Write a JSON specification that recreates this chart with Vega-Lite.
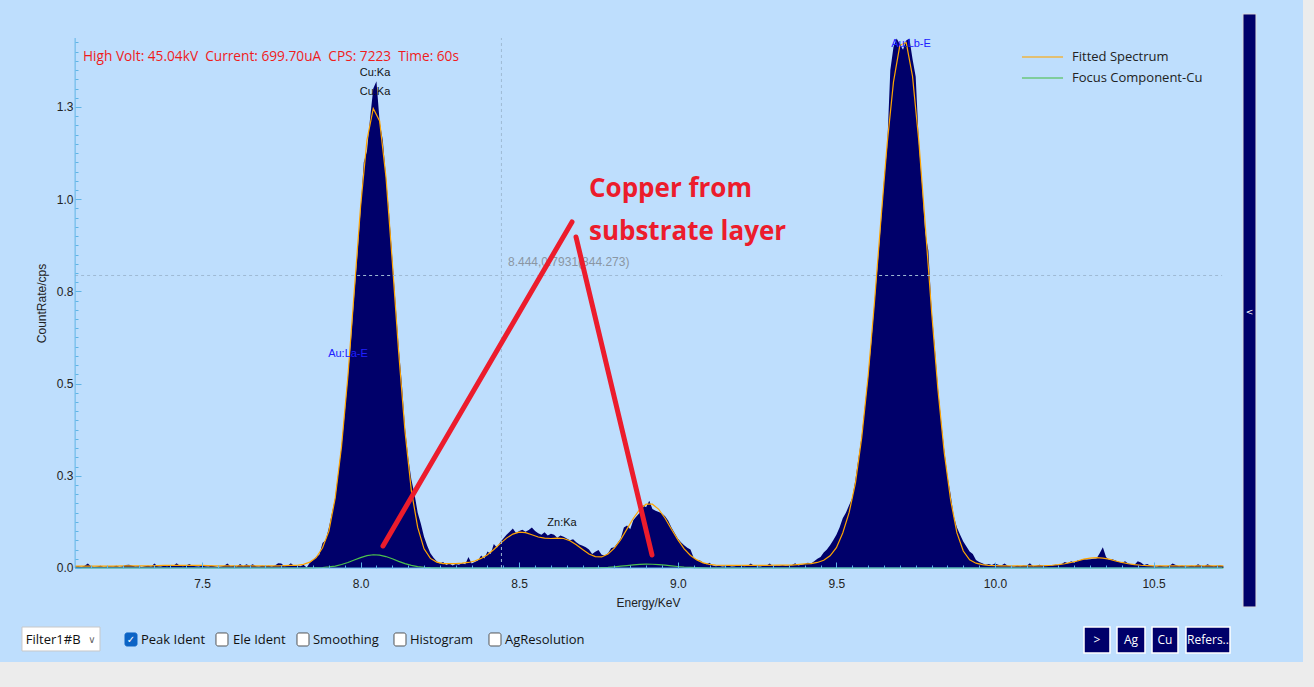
{
"$schema":"https://vega.github.io/schema/vega-lite/v6.json",
"width":1303,"height":662,
"autosize":{"type":"none"},
"padding":{"left":0,"top":0,"right":11,"bottom":25},
"background":"#ececec",
"config":{"view":{"fill":"#bedefd","stroke":null},"text":{"font":"Open Sans"}},
"datasets":{
"meas":[
{"e":7.10,"v":0.004},{"e":7.11,"v":0.005},{"e":7.12,"v":0.003},{"e":7.13,"v":0.006},{"e":7.14,"v":0.012},{"e":7.15,"v":0.005},{"e":7.16,"v":0.003},{"e":7.17,"v":0.004},{"e":7.18,"v":0.006},{"e":7.19,"v":0.003},
{"e":7.20,"v":0.004},{"e":7.21,"v":0.005},{"e":7.22,"v":0.004},{"e":7.23,"v":0.006},{"e":7.24,"v":0.003},{"e":7.25,"v":0.005},{"e":7.26,"v":0.008},{"e":7.27,"v":0.009},{"e":7.28,"v":0.006},{"e":7.29,"v":0.004},
{"e":7.30,"v":0.005},{"e":7.31,"v":0.003},{"e":7.32,"v":0.005},{"e":7.33,"v":0.006},{"e":7.34,"v":0.004},{"e":7.35,"v":0.012},{"e":7.36,"v":0.005},{"e":7.37,"v":0.004},{"e":7.38,"v":0.006},{"e":7.39,"v":0.005},
{"e":7.40,"v":0.007},{"e":7.41,"v":0.006},{"e":7.42,"v":0.013},{"e":7.43,"v":0.006},{"e":7.44,"v":0.005},{"e":7.45,"v":0.007},{"e":7.46,"v":0.011},{"e":7.47,"v":0.006},{"e":7.48,"v":0.005},{"e":7.49,"v":0.004},
{"e":7.50,"v":0.006},{"e":7.51,"v":0.005},{"e":7.52,"v":0.004},{"e":7.53,"v":0.006},{"e":7.54,"v":0.005},{"e":7.55,"v":0.003},{"e":7.56,"v":0.004},{"e":7.57,"v":0.006},{"e":7.58,"v":0.012},{"e":7.59,"v":0.005},
{"e":7.60,"v":0.006},{"e":7.61,"v":0.004},{"e":7.62,"v":0.011},{"e":7.63,"v":0.005},{"e":7.64,"v":0.010},{"e":7.65,"v":0.006},{"e":7.66,"v":0.010},{"e":7.67,"v":0.005},{"e":7.68,"v":0.004},{"e":7.69,"v":0.006},
{"e":7.70,"v":0.005},{"e":7.71,"v":0.006},{"e":7.72,"v":0.004},{"e":7.73,"v":0.007},{"e":7.74,"v":0.013},{"e":7.75,"v":0.012},{"e":7.76,"v":0.005},{"e":7.77,"v":0.006},{"e":7.78,"v":0.013},{"e":7.79,"v":0.006},
{"e":7.80,"v":0.007},{"e":7.81,"v":0.005},{"e":7.82,"v":0.009},{"e":7.83,"v":0.001},{"e":7.84,"v":0.014},{"e":7.85,"v":0.022},{"e":7.86,"v":0.030},{"e":7.87,"v":0.036},{"e":7.88,"v":0.068},{"e":7.89,"v":0.075},
{"e":7.90,"v":0.11},{"e":7.91,"v":0.15},{"e":7.92,"v":0.19},{"e":7.93,"v":0.26},{"e":7.94,"v":0.33},{"e":7.95,"v":0.42},{"e":7.96,"v":0.52},{"e":7.97,"v":0.62},{"e":7.98,"v":0.74},{"e":7.99,"v":0.85},
{"e":8.00,"v":0.97},{"e":8.01,"v":1.10},{"e":8.02,"v":1.13},{"e":8.03,"v":1.22},{"e":8.04,"v":1.30},{"e":8.05,"v":1.32},{"e":8.06,"v":1.21},{"e":8.07,"v":1.16},{"e":8.08,"v":1.06},{"e":8.09,"v":0.96},
{"e":8.10,"v":0.84},{"e":8.11,"v":0.72},{"e":8.12,"v":0.60},{"e":8.13,"v":0.50},{"e":8.14,"v":0.38},{"e":8.15,"v":0.30},{"e":8.16,"v":0.24},{"e":8.17,"v":0.20},{"e":8.18,"v":0.15},{"e":8.19,"v":0.12},
{"e":8.20,"v":0.085},{"e":8.21,"v":0.06},{"e":8.22,"v":0.04},{"e":8.23,"v":0.028},{"e":8.24,"v":0.018},{"e":8.25,"v":0.012},{"e":8.26,"v":0.016},{"e":8.27,"v":0.008},{"e":8.28,"v":0.012},{"e":8.29,"v":0.007},
{"e":8.30,"v":0.011},{"e":8.31,"v":0.009},{"e":8.32,"v":0.013},{"e":8.33,"v":0.010},{"e":8.34,"v":0.030},{"e":8.35,"v":0.012},{"e":8.36,"v":0.016},{"e":8.37,"v":0.020},{"e":8.38,"v":0.034},{"e":8.39,"v":0.026},
{"e":8.40,"v":0.045},{"e":8.41,"v":0.038},{"e":8.42,"v":0.065},{"e":8.43,"v":0.055},{"e":8.44,"v":0.070},{"e":8.45,"v":0.080},{"e":8.46,"v":0.090},{"e":8.47,"v":0.098},{"e":8.48,"v":0.107},{"e":8.49,"v":0.095},
{"e":8.50,"v":0.100},{"e":8.51,"v":0.104},{"e":8.52,"v":0.098},{"e":8.53,"v":0.103},{"e":8.54,"v":0.110},{"e":8.55,"v":0.100},{"e":8.56,"v":0.094},{"e":8.57,"v":0.090},{"e":8.58,"v":0.097},{"e":8.59,"v":0.088},
{"e":8.60,"v":0.093},{"e":8.61,"v":0.090},{"e":8.62,"v":0.082},{"e":8.63,"v":0.088},{"e":8.64,"v":0.085},{"e":8.65,"v":0.080},{"e":8.66,"v":0.075},{"e":8.67,"v":0.078},{"e":8.68,"v":0.070},{"e":8.69,"v":0.064},
{"e":8.70,"v":0.060},{"e":8.71,"v":0.056},{"e":8.72,"v":0.050},{"e":8.73,"v":0.038},{"e":8.74,"v":0.044},{"e":8.75,"v":0.049},{"e":8.76,"v":0.036},{"e":8.77,"v":0.034},{"e":8.78,"v":0.040},{"e":8.79,"v":0.054},
{"e":8.80,"v":0.056},{"e":8.81,"v":0.068},{"e":8.82,"v":0.080},{"e":8.83,"v":0.110},{"e":8.84,"v":0.115},{"e":8.85,"v":0.105},{"e":8.86,"v":0.130},{"e":8.87,"v":0.140},{"e":8.88,"v":0.150},{"e":8.89,"v":0.170},
{"e":8.90,"v":0.165},{"e":8.91,"v":0.182},{"e":8.92,"v":0.160},{"e":8.93,"v":0.155},{"e":8.94,"v":0.152},{"e":8.95,"v":0.148},{"e":8.96,"v":0.140},{"e":8.97,"v":0.128},{"e":8.98,"v":0.110},{"e":8.99,"v":0.095},
{"e":9.00,"v":0.080},{"e":9.01,"v":0.070},{"e":9.02,"v":0.062},{"e":9.03,"v":0.055},{"e":9.04,"v":0.050},{"e":9.05,"v":0.028},{"e":9.06,"v":0.022},{"e":9.07,"v":0.020},{"e":9.08,"v":0.014},{"e":9.09,"v":0.010},
{"e":9.10,"v":0.014},{"e":9.11,"v":0.007},{"e":9.12,"v":0.005},{"e":9.13,"v":0.006},{"e":9.14,"v":0.004},{"e":9.15,"v":0.005},{"e":9.16,"v":0.006},{"e":9.17,"v":0.004},{"e":9.18,"v":0.005},{"e":9.19,"v":0.007},
{"e":9.20,"v":0.006},{"e":9.21,"v":0.005},{"e":9.22,"v":0.006},{"e":9.23,"v":0.012},{"e":9.24,"v":0.006},{"e":9.25,"v":0.005},{"e":9.26,"v":0.004},{"e":9.27,"v":0.006},{"e":9.28,"v":0.007},{"e":9.29,"v":0.012},
{"e":9.30,"v":0.005},{"e":9.31,"v":0.007},{"e":9.32,"v":0.006},{"e":9.33,"v":0.008},{"e":9.34,"v":0.006},{"e":9.35,"v":0.007},{"e":9.36,"v":0.008},{"e":9.37,"v":0.013},{"e":9.38,"v":0.007},{"e":9.39,"v":0.009},
{"e":9.40,"v":0.011},{"e":9.41,"v":0.014},{"e":9.42,"v":0.012},{"e":9.43,"v":0.018},{"e":9.44,"v":0.025},{"e":9.45,"v":0.030},{"e":9.46,"v":0.042},{"e":9.47,"v":0.050},{"e":9.48,"v":0.062},{"e":9.49,"v":0.075},
{"e":9.50,"v":0.090},{"e":9.51,"v":0.110},{"e":9.52,"v":0.135},{"e":9.53,"v":0.150},{"e":9.54,"v":0.170},{"e":9.55,"v":0.190},{"e":9.56,"v":0.240},{"e":9.57,"v":0.300},{"e":9.58,"v":0.360},{"e":9.59,"v":0.440},
{"e":9.60,"v":0.520},{"e":9.61,"v":0.610},{"e":9.62,"v":0.720},{"e":9.63,"v":0.820},{"e":9.64,"v":0.930},{"e":9.65,"v":1.050},{"e":9.66,"v":1.140},{"e":9.67,"v":1.350},{"e":9.68,"v":1.413},{"e":9.69,"v":1.436},
{"e":9.70,"v":1.420},{"e":9.71,"v":1.405},{"e":9.72,"v":1.430},{"e":9.73,"v":1.436},{"e":9.74,"v":1.380},{"e":9.75,"v":1.332},{"e":9.76,"v":1.150},{"e":9.77,"v":1.040},{"e":9.78,"v":0.910},{"e":9.79,"v":0.860},
{"e":9.80,"v":0.700},{"e":9.81,"v":0.600},{"e":9.82,"v":0.490},{"e":9.83,"v":0.400},{"e":9.84,"v":0.320},{"e":9.85,"v":0.250},{"e":9.86,"v":0.200},{"e":9.87,"v":0.140},{"e":9.88,"v":0.110},{"e":9.89,"v":0.090},
{"e":9.90,"v":0.072},{"e":9.91,"v":0.058},{"e":9.92,"v":0.045},{"e":9.93,"v":0.038},{"e":9.94,"v":0.022},{"e":9.95,"v":0.016},{"e":9.96,"v":0.013},{"e":9.97,"v":0.009},{"e":9.98,"v":0.011},{"e":9.99,"v":0.008},
{"e":10.00,"v":0.012},{"e":10.01,"v":0.009},{"e":10.02,"v":0.007},{"e":10.03,"v":0.012},{"e":10.04,"v":0.006},{"e":10.05,"v":0.005},{"e":10.06,"v":0.004},{"e":10.07,"v":0.006},{"e":10.08,"v":0.005},{"e":10.09,"v":0.007},
{"e":10.10,"v":0.006},{"e":10.11,"v":0.013},{"e":10.12,"v":0.005},{"e":10.13,"v":0.006},{"e":10.14,"v":0.009},{"e":10.15,"v":0.007},{"e":10.16,"v":0.006},{"e":10.17,"v":0.008},{"e":10.18,"v":0.007},{"e":10.19,"v":0.009},
{"e":10.20,"v":0.008},{"e":10.21,"v":0.011},{"e":10.22,"v":0.016},{"e":10.23,"v":0.013},{"e":10.24,"v":0.018},{"e":10.25,"v":0.014},{"e":10.26,"v":0.020},{"e":10.27,"v":0.022},{"e":10.28,"v":0.024},{"e":10.29,"v":0.023},
{"e":10.30,"v":0.024},{"e":10.31,"v":0.025},{"e":10.32,"v":0.026},{"e":10.33,"v":0.040},{"e":10.34,"v":0.056},{"e":10.35,"v":0.030},{"e":10.36,"v":0.022},{"e":10.37,"v":0.024},{"e":10.38,"v":0.020},{"e":10.39,"v":0.017},
{"e":10.40,"v":0.014},{"e":10.41,"v":0.018},{"e":10.42,"v":0.012},{"e":10.43,"v":0.010},{"e":10.44,"v":0.009},{"e":10.45,"v":0.018},{"e":10.46,"v":0.015},{"e":10.47,"v":0.008},{"e":10.48,"v":0.011},{"e":10.49,"v":0.006},
{"e":10.50,"v":0.005},{"e":10.51,"v":0.004},{"e":10.52,"v":0.006},{"e":10.53,"v":0.005},{"e":10.54,"v":0.004},{"e":10.55,"v":0.006},{"e":10.56,"v":0.012},{"e":10.57,"v":0.008},{"e":10.58,"v":0.005},{"e":10.59,"v":0.006},
{"e":10.60,"v":0.004},{"e":10.61,"v":0.005},{"e":10.62,"v":0.006},{"e":10.63,"v":0.005},{"e":10.64,"v":0.010},{"e":10.65,"v":0.006},{"e":10.66,"v":0.005},{"e":10.67,"v":0.010},{"e":10.68,"v":0.006},{"e":10.69,"v":0.005},
{"e":10.70,"v":0.006},{"e":10.71,"v":0.007},{"e":10.72,"v":0.005}
],
"fit":[
{"e":7.10,"fit":0.005,"cu":0},{"e":7.14,"fit":0.005,"cu":0},{"e":7.18,"fit":0.005,"cu":0},{"e":7.22,"fit":0.005,"cu":0},{"e":7.26,"fit":0.006,"cu":0},{"e":7.30,"fit":0.006,"cu":0},{"e":7.34,"fit":0.006,"cu":0},{"e":7.38,"fit":0.007,"cu":0},{"e":7.42,"fit":0.007,"cu":0},{"e":7.46,"fit":0.007,"cu":0},{"e":7.50,"fit":0.007,"cu":0},{"e":7.54,"fit":0.006,"cu":0},{"e":7.58,"fit":0.006,"cu":0},{"e":7.62,"fit":0.006,"cu":0},{"e":7.66,"fit":0.006,"cu":0},{"e":7.70,"fit":0.006,"cu":0},{"e":7.74,"fit":0.006,"cu":0},{"e":7.78,"fit":0.007,"cu":0},
{"e":7.80,"fit":0.007,"cu":0},{"e":7.82,"fit":0.010,"cu":0},{"e":7.84,"fit":0.016,"cu":0.0003},{"e":7.86,"fit":0.028,"cu":0.0006},{"e":7.88,"fit":0.055,"cu":0.0013},{"e":7.90,"fit":0.10,"cu":0.0028},{"e":7.92,"fit":0.19,"cu":0.0053},{"e":7.94,"fit":0.33,"cu":0.0094},{"e":7.96,"fit":0.52,"cu":0.0149},{"e":7.98,"fit":0.75,"cu":0.0215},
{"e":8.00,"fit":0.98,"cu":0.0281},{"e":8.02,"fit":1.16,"cu":0.0333},{"e":8.04,"fit":1.246,"cu":0.0359},{"e":8.06,"fit":1.212,"cu":0.035},{"e":8.08,"fit":1.06,"cu":0.031},{"e":8.10,"fit":0.83,"cu":0.0249},{"e":8.12,"fit":0.585,"cu":0.0181},{"e":8.14,"fit":0.37,"cu":0.012},{"e":8.16,"fit":0.21,"cu":0.0072},{"e":8.18,"fit":0.11,"cu":0.0039},
{"e":8.20,"fit":0.052,"cu":0.0019},{"e":8.22,"fit":0.026,"cu":0.0009},{"e":8.24,"fit":0.016,"cu":0.0003},{"e":8.26,"fit":0.012,"cu":0},{"e":8.28,"fit":0.012,"cu":0},{"e":8.30,"fit":0.012,"cu":0},{"e":8.32,"fit":0.013,"cu":0},{"e":8.34,"fit":0.015,"cu":0},{"e":8.36,"fit":0.019,"cu":0},{"e":8.38,"fit":0.026,"cu":0},
{"e":8.40,"fit":0.036,"cu":0},{"e":8.42,"fit":0.050,"cu":0},{"e":8.44,"fit":0.066,"cu":0},{"e":8.46,"fit":0.081,"cu":0},{"e":8.48,"fit":0.092,"cu":0},{"e":8.50,"fit":0.097,"cu":0},{"e":8.52,"fit":0.096,"cu":0},{"e":8.54,"fit":0.090,"cu":0},{"e":8.56,"fit":0.084,"cu":0},{"e":8.58,"fit":0.081,"cu":0},
{"e":8.60,"fit":0.080,"cu":0},{"e":8.62,"fit":0.081,"cu":0},{"e":8.64,"fit":0.080,"cu":0},{"e":8.66,"fit":0.074,"cu":0},{"e":8.68,"fit":0.063,"cu":0},{"e":8.70,"fit":0.050,"cu":0},{"e":8.72,"fit":0.038,"cu":0.0002},{"e":8.74,"fit":0.031,"cu":0.0005},{"e":8.76,"fit":0.030,"cu":0.0011},{"e":8.78,"fit":0.038,"cu":0.0019},
{"e":8.80,"fit":0.054,"cu":0.0032},{"e":8.82,"fit":0.077,"cu":0.0048},{"e":8.84,"fit":0.106,"cu":0.0066},{"e":8.86,"fit":0.135,"cu":0.0084},{"e":8.88,"fit":0.159,"cu":0.0098},{"e":8.90,"fit":0.173,"cu":0.0105},{"e":8.92,"fit":0.173,"cu":0.0102},{"e":8.94,"fit":0.159,"cu":0.0092},{"e":8.96,"fit":0.135,"cu":0.0076},{"e":8.98,"fit":0.105,"cu":0.0057},
{"e":9.00,"fit":0.077,"cu":0.004},{"e":9.02,"fit":0.052,"cu":0.0025},{"e":9.04,"fit":0.034,"cu":0.0015},{"e":9.06,"fit":0.022,"cu":0.0008},{"e":9.08,"fit":0.014,"cu":0.0004},{"e":9.10,"fit":0.010,"cu":0},{"e":9.12,"fit":0.008,"cu":0},{"e":9.16,"fit":0.007,"cu":0},{"e":9.20,"fit":0.007,"cu":0},{"e":9.24,"fit":0.007,"cu":0},{"e":9.28,"fit":0.007,"cu":0},{"e":9.32,"fit":0.008,"cu":0},{"e":9.36,"fit":0.008,"cu":0},
{"e":9.40,"fit":0.011,"cu":0},{"e":9.42,"fit":0.012,"cu":0},{"e":9.44,"fit":0.015,"cu":0},{"e":9.46,"fit":0.021,"cu":0},{"e":9.48,"fit":0.033,"cu":0},{"e":9.50,"fit":0.055,"cu":0},{"e":9.52,"fit":0.095,"cu":0},{"e":9.54,"fit":0.150,"cu":0},{"e":9.56,"fit":0.23,"cu":0},{"e":9.58,"fit":0.355,"cu":0},
{"e":9.60,"fit":0.52,"cu":0},{"e":9.62,"fit":0.72,"cu":0},{"e":9.64,"fit":0.94,"cu":0},{"e":9.66,"fit":1.15,"cu":0},{"e":9.68,"fit":1.318,"cu":0},{"e":9.70,"fit":1.417,"cu":0},{"e":9.72,"fit":1.425,"cu":0},{"e":9.74,"fit":1.333,"cu":0},{"e":9.76,"fit":1.156,"cu":0},{"e":9.78,"fit":0.931,"cu":0},
{"e":9.80,"fit":0.697,"cu":0},{"e":9.82,"fit":0.484,"cu":0},{"e":9.84,"fit":0.313,"cu":0},{"e":9.86,"fit":0.185,"cu":0},{"e":9.88,"fit":0.095,"cu":0},{"e":9.90,"fit":0.046,"cu":0},{"e":9.92,"fit":0.022,"cu":0},{"e":9.94,"fit":0.013,"cu":0},{"e":9.96,"fit":0.009,"cu":0},{"e":9.98,"fit":0.007,"cu":0},
{"e":10.02,"fit":0.006,"cu":0},{"e":10.08,"fit":0.006,"cu":0},{"e":10.14,"fit":0.006,"cu":0},{"e":10.16,"fit":0.0066,"cu":0},{"e":10.18,"fit":0.0075,"cu":0},{"e":10.20,"fit":0.009,"cu":0},{"e":10.22,"fit":0.0115,"cu":0},{"e":10.24,"fit":0.015,"cu":0},{"e":10.26,"fit":0.019,"cu":0},{"e":10.28,"fit":0.024,"cu":0},
{"e":10.30,"fit":0.027,"cu":0},{"e":10.32,"fit":0.028,"cu":0},{"e":10.34,"fit":0.027,"cu":0},{"e":10.36,"fit":0.024,"cu":0},{"e":10.38,"fit":0.019,"cu":0},{"e":10.40,"fit":0.015,"cu":0},{"e":10.42,"fit":0.0115,"cu":0},{"e":10.44,"fit":0.009,"cu":0},{"e":10.46,"fit":0.0075,"cu":0},{"e":10.48,"fit":0.0066,"cu":0},
{"e":10.50,"fit":0.006,"cu":0},{"e":10.56,"fit":0.006,"cu":0},{"e":10.62,"fit":0.006,"cu":0},{"e":10.68,"fit":0.006,"cu":0},{"e":10.72,"fit":0.006,"cu":0}
],
"legend_items":[{"e":10.0851,"e2":10.2144,"v":1.3856,"series":"fit","t":"Fitted Spectrum"},{"e":10.0851,"e2":10.2144,"v":1.3286,"series":"cu","t":"Focus Component-Cu"}],
"cross":[{"e":8.444,"e2":8.444,"v":0,"v2":1.437},{"e":7.1,"e2":10.716,"v":0.7931,"v2":0.7931}],
"axislines":[{"e":7.1,"e2":10.716,"v":0,"v2":0},{"e":7.1,"e2":7.1,"v":0,"v2":1.437}],
"arrows":[{"e":8.0706,"v":0.0597,"k":"a"},{"e":8.6665,"v":0.9382,"k":"a"},{"e":8.6791,"v":0.8975,"k":"b"},{"e":8.9187,"v":0.0352,"k":"b"}],
"peaks_black":[{"e":8.0454,"v":1.3422,"t":"Cu:Ka"},{"e":8.0454,"v":1.2907,"t":"Cu:Ka"},{"e":8.635,"v":0.122,"t":"Zn:Ka"}],
"peaks_blue":[{"e":7.9603,"v":0.5803,"t":"Au:La-E"},{"e":9.7352,"v":1.4208,"t":"Au:Lb-E"}],
"header":[{"e":7.1248,"v":1.3856,"t":"High Volt: 45.04kV \u00a0Current: 699.70uA \u00a0CPS: 7223 \u00a0Time: 60s"}],
"note":[{"e":8.72,"v":1.0277,"t":"Copper from"},{"e":8.72,"v":0.9111,"t":"substrate layer"}],
"cursor":[{"e":8.4647,"v":0.8297,"t":"8.444,0.7931(844.273)"}],
"dropdown":[{"e":6.9325,"e2":7.1784,"v":-0.160,"v2":-0.225}],
"chk_on":[{"e":7.2573,"e2":7.2951,"v":-0.1762,"v2":-0.2115}],
"chk_off":[{"e":7.5441,"e2":7.5819,"v":-0.1762,"v2":-0.2115},{"e":7.7995,"e2":7.8373,"v":-0.1762,"v2":-0.2115},{"e":8.1053,"e2":8.1431,"v":-0.1762,"v2":-0.2115},{"e":8.4048,"e2":8.4426,"v":-0.1762,"v2":-0.2115}],
"checkmark":[{"e":7.2762,"v":-0.1939,"t":"✓"}],
"ui_labels":[{"e":6.9445,"v":-0.1939,"t":"Filter1#B"},{"e":7.3077,"v":-0.1939,"t":"Peak Ident"},{"e":7.5977,"v":-0.1939,"t":"Ele Ident"},{"e":7.8499,"v":-0.1939,"t":"Smoothing"},{"e":8.1557,"v":-0.1939,"t":"Histogram"},{"e":8.4552,"v":-0.1939,"t":"AgResolution"}],
"chevron":[{"e":7.1532,"v":-0.1939,"t":"∨"}],
"buttons":[{"e":10.2806,"e2":10.3625,"v":-0.160,"v2":-0.2305},{"e":10.3846,"e2":10.4729,"v":-0.160,"v2":-0.2305},{"e":10.4950,"e2":10.5769,"v":-0.160,"v2":-0.2305},{"e":10.6021,"e2":10.7409,"v":-0.160,"v2":-0.2305}],
"button_labels":[{"e":10.3216,"v":-0.1952,"t":">"},{"e":10.4287,"v":-0.1952,"t":"Ag"},{"e":10.5360,"v":-0.1952,"t":"Cu"},{"e":10.6715,"v":-0.1952,"t":"Refers.."}],
"scrollbar":[{"e":10.7818,"e2":10.8228,"v":1.5022,"v2":-0.1057}],
"scroll_arrow":[{"e":10.8023,"v":0.6941,"t":"<"}]
},
"encoding":{
"x":{"field":"e","type":"quantitative","scale":{"domain":[6.8632,10.971],"nice":false,"zero":false},
"axis":{"orient":"bottom","offset":-94,"domain":false,"grid":false,"zindex":1,
"values":[7.15,7.2,7.25,7.3,7.35,7.4,7.45,7.5,7.55,7.6,7.65,7.7,7.75,7.8,7.85,7.9,7.95,8,8.05,8.1,8.15,8.2,8.25,8.3,8.35,8.4,8.45,8.5,8.55,8.6,8.65,8.7,8.75,8.8,8.85,8.9,8.95,9,9.05,9.1,9.15,9.2,9.25,9.3,9.35,9.4,9.45,9.5,9.55,9.6,9.65,9.7,9.75,9.8,9.85,9.9,9.95,10,10.05,10.1,10.15,10.2,10.25,10.3,10.35,10.4,10.45,10.5,10.55,10.6,10.65,10.7],
"tickSize":{"condition":{"test":"abs(datum.value*2-round(datum.value*2))<0.001","value":-6},"value":-3},
"tickColor":"#5fb4e6","labelOverlap":false,"labelFlush":false,
"labelExpr":"abs(datum.value*2-round(datum.value*2))<0.001 ? format(datum.value,'.1f') : ''",
"labelFont":"Liberation Sans","labelFontSize":12,"labelColor":"#222222","labelPadding":16,
"title":"Energy/KeV","titleFont":"Liberation Sans","titleFontSize":12,"titleFontWeight":"normal","titleColor":"#222222","titleX":648,"titleY":34,"titleBaseline":"middle","titleAlign":"center"}},
"y":{"field":"v","type":"quantitative","scale":{"domain":[-0.2549,1.5401],"nice":false,"zero":false},
"axis":{"orient":"left","offset":-75,"domain":false,"grid":false,"zindex":1,
"values":[0,0.025,0.05,0.075,0.1,0.125,0.15,0.175,0.2,0.225,0.25,0.275,0.3,0.325,0.35,0.375,0.4,0.425,0.45,0.475,0.5,0.525,0.55,0.575,0.6,0.625,0.65,0.675,0.7,0.725,0.75,0.775,0.8,0.825,0.85,0.875,0.9,0.925,0.95,0.975,1,1.025,1.05,1.075,1.1,1.125,1.15,1.175,1.2,1.225,1.25,1.275,1.3,1.325,1.35,1.375,1.4,1.425],
"tickSize":{"condition":{"test":"abs(datum.value*4-round(datum.value*4))<0.001","value":-6},"value":-3},
"tickColor":"#5fb4e6","labelOverlap":false,"labelFlush":false,
"labelExpr":"abs(datum.value*4-round(datum.value*4))<0.001 ? format(datum.value,'.1f') : ''",
"labelFont":"Liberation Sans","labelFontSize":12,"labelColor":"#222222","labelPadding":8,
"title":"CountRate/cps","titleFont":"Liberation Sans","titleFontSize":12,"titleFontWeight":"normal","titleColor":"#222222","titleX":-34,"titleY":303,"titleAngle":270,"titleBaseline":"middle","titleAlign":"center"}}
},
"layer":[
{"data":{"name":"meas"},"mark":{"type":"area","color":"#00006a","interpolate":"linear"},"encoding":{"y2":{"datum":0}}},
{"data":{"name":"fit"},"transform":[{"fold":["fit","cu"],"as":["series","v"]}],
"mark":{"type":"line","strokeWidth":1.2,"interpolate":"linear"},
"encoding":{"color":{"field":"series","type":"nominal","scale":{"domain":["fit","cu"],"range":["#ffa500","#4cc04c"]},"legend":null}}},
{"data":{"name":"legend_items"},"mark":{"type":"rule","strokeWidth":2,"opacity":0.55},
"encoding":{"x2":{"field":"e2"},"color":{"field":"series","type":"nominal","legend":null}}},
{"data":{"name":"legend_items"},"mark":{"type":"text","align":"left","baseline":"middle","fontSize":13,"color":"#222222","font":"Open Sans","dx":9},
"encoding":{"x":{"field":"e2"},"text":{"field":"t"}}},
{"data":{"name":"cross"},"mark":{"type":"rule","color":"#9fbad4","strokeWidth":1,"strokeDash":[3,3]},"encoding":{"x2":{"field":"e2"},"y2":{"field":"v2"}}},
{"data":{"name":"cursor"},"mark":{"type":"text","align":"left","baseline":"middle","fontSize":12,"color":"#8a96a3","font":"Liberation Sans"},"encoding":{"text":{"field":"t"}}},
{"data":{"name":"axislines"},"mark":{"type":"rule","color":"#5fb4e6","strokeWidth":1},"encoding":{"x2":{"field":"e2"},"y2":{"field":"v2"}}},
{"data":{"name":"arrows"},"mark":{"type":"line","color":"#ec1c2c","strokeWidth":5,"strokeCap":"round"},"encoding":{"detail":{"field":"k"}}},
{"data":{"name":"peaks_black"},"mark":{"type":"text","align":"center","baseline":"middle","fontSize":11,"color":"#111111","font":"Liberation Sans"},"encoding":{"text":{"field":"t"}}},
{"data":{"name":"peaks_blue"},"mark":{"type":"text","align":"center","baseline":"middle","fontSize":11,"color":"#2020ff","font":"Liberation Sans"},"encoding":{"text":{"field":"t"}}},
{"data":{"name":"header"},"mark":{"type":"text","align":"left","baseline":"middle","fontSize":13.7,"color":"#f01c1c","font":"Open Sans"},"encoding":{"text":{"field":"t"}}},
{"data":{"name":"note"},"mark":{"type":"text","align":"left","baseline":"middle","fontSize":26,"fontWeight":"bold","color":"#ec1c2c","font":"Open Sans"},"encoding":{"text":{"field":"t"}}},
{"data":{"name":"dropdown"},"mark":{"type":"rect","fill":"#ffffff","stroke":"#c8c8c8","strokeWidth":1},"encoding":{"x2":{"field":"e2"},"y2":{"field":"v2"}}},
{"data":{"name":"chk_on"},"mark":{"type":"rect","fill":"#0b63c5","stroke":"#0b63c5","cornerRadius":2},"encoding":{"x2":{"field":"e2"},"y2":{"field":"v2"}}},
{"data":{"name":"chk_off"},"mark":{"type":"rect","fill":"#ffffff","stroke":"#555555","strokeWidth":1,"cornerRadius":2},"encoding":{"x2":{"field":"e2"},"y2":{"field":"v2"}}},
{"data":{"name":"checkmark"},"mark":{"type":"text","align":"center","baseline":"middle","fontSize":10,"color":"#ffffff","font":"DejaVu Sans"},"encoding":{"text":{"field":"t"}}},
{"data":{"name":"ui_labels"},"mark":{"type":"text","align":"left","baseline":"middle","fontSize":13,"color":"#111111","font":"Open Sans"},"encoding":{"text":{"field":"t"}}},
{"data":{"name":"chevron"},"mark":{"type":"text","align":"center","baseline":"middle","fontSize":10,"color":"#666666","font":"DejaVu Sans"},"encoding":{"text":{"field":"t"}}},
{"data":{"name":"buttons"},"mark":{"type":"rect","fill":"#00006a","stroke":"#ffffff","strokeWidth":1.5},"encoding":{"x2":{"field":"e2"},"y2":{"field":"v2"}}},
{"data":{"name":"button_labels"},"mark":{"type":"text","align":"center","baseline":"middle","fontSize":12,"color":"#ffffff","font":"Open Sans"},"encoding":{"text":{"field":"t"}}},
{"data":{"name":"scrollbar"},"mark":{"type":"rect","fill":"#00006a","stroke":"#dcdcdc","strokeWidth":1},"encoding":{"x2":{"field":"e2"},"y2":{"field":"v2"}}},
{"data":{"name":"scroll_arrow"},"mark":{"type":"text","align":"center","baseline":"middle","fontSize":9,"color":"#ffffff","font":"DejaVu Sans"},"encoding":{"text":{"field":"t"}}}
]
}
